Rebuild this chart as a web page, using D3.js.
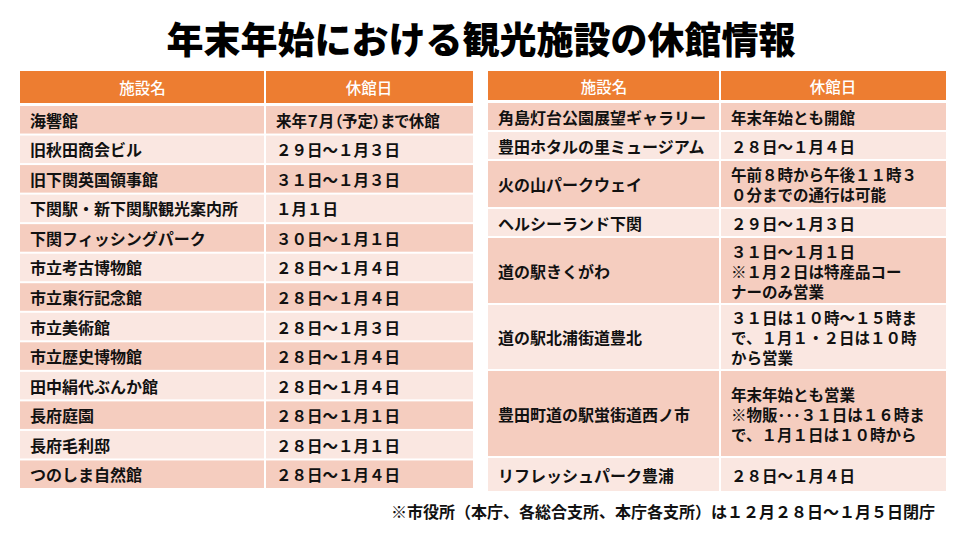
<!DOCTYPE html>
<html>
<head>
<meta charset="utf-8">
<script src="https://cdn.jsdelivr.net/npm/d3@7"></script>
<style>
  body { margin: 0; background: #fff; }
  text { font-family: "Noto Sans CJK JP", "Noto Sans", sans-serif; }
</style>
</head>
<body>
<div id="chart"></div>
<script>
// table content
const title = "年末年始における観光施設の休館情報";
const headers = ["施設名", "休館日"];
const footnote = "※市役所（本庁、各総合支所、本庁各支所）は１２月２８日～１月５日閉庁";

const leftNames = [
    "海響館", "旧秋田商会ビル", "旧下関英国領事館", "下関駅・新下関駅観光案内所",
    "下関フィッシングパーク", "市立考古博物館", "市立東行記念館", "市立美術館",
    "市立歴史博物館", "田中絹代ぶんか館", "長府庭園", "長府毛利邸", "つのしま自然館"
];
const leftClosed = [
    "来年７月（予定）まで休館", "２９日～１月３日", "３１日～１月３日", "１月１日",
    "３０日～１月１日", "２８日～１月４日", "２８日～１月４日", "２８日～１月３日",
    "２８日～１月４日", "２８日～１月４日", "２８日～１月１日", "２８日～１月１日", "２８日～１月４日"
];

const rightNames = [
    "角島灯台公園展望ギャラリー", "豊田ホタルの里ミュージアム", "火の山パークウェイ",
    "ヘルシーランド下関", "道の駅きくがわ", "道の駅北浦街道豊北",
    "豊田町道の駅蛍街道西ノ市", "リフレッシュパーク豊浦"
];
const rightClosed = [
    "年末年始とも開館",
    "２８日～１月４日",
    "午前８時から午後１１時３\n０分までの通行は可能",
    "２９日～１月３日",
    "３１日～１月１日\n※１月２日は特産品コー\nナーのみ営業",
    "３１日は１０時～１５時ま\nで、１月１・２日は１０時\nから営業",
    "年末年始とも営業\n※物販･･･３１日は１６時ま\nで、１月１日は１０時から",
    "２８日～１月４日"
];

// layout
const width = 960, height = 540;
const orange = "#ED7D31", dark = "#F5CDBF", light = "#FAE7E1";
const lineGap = 20;
// relative row heights for the right table (rows with more lines are taller)
const rightRowWeights = [29, 29, 48, 29, 67, 66, 87, 35];

const svg = d3.create("svg")
    .attr("width", width)
    .attr("height", height);

// title
svg.append("text")
    .attr("x", 481)
    .attr("y", 38)
    .attr("text-anchor", "middle")
    .attr("dominant-baseline", "central")
    .style("font-size", "37px")
    .style("font-weight", 900)
    .attr("fill", "#000")
    .text(title);

function drawTable(g, cfg) {
    const { x0, split, x1, headTop, headBottom, rows } = cfg;
    const cols = [[x0, split], [split, x1]];

    // header
    cols.forEach(([a, b], i) => {
        g.append("rect")
            .attr("x", a + (i ? 1 : 0)).attr("y", headTop)
            .attr("width", b - a - 1).attr("height", headBottom - headTop)
            .attr("fill", orange);
        g.append("text")
            .attr("x", (a + b) / 2)
            .attr("y", (headTop + headBottom) / 2)
            .attr("text-anchor", "middle")
            .attr("dominant-baseline", "central")
            .attr("fill", "#fff")
            .style("font-size", "15.5px")
            .style("font-weight", 500)
            .text(headers[i]);
    });

    // body rows
    rows.forEach((r, i) => {
        const fill = i % 2 === 0 ? dark : light;
        [r.name, r.closed].forEach((txt, c) => {
            const [a, b] = cols[c];
            g.append("rect")
                .attr("x", a + (c ? 1 : 0)).attr("y", r.y0 + 1)
                .attr("width", b - a - 1).attr("height", r.y1 - r.y0 - 2)
                .attr("fill", fill);
            const lines = txt.split("\n");
            const mid = (r.y0 + r.y1) / 2;
            const tx = a + (c ? cfg.padR : cfg.padL);
            const t = g.append("text")
                .attr("x", tx)
                .attr("fill", "#111")
                .style("font-size", c ? "15.5px" : "16px")
                .style("font-weight", 700)
                .style("font-feature-settings", txt.includes("（") ? "'palt'" : "normal");
            lines.forEach((ln, k) => {
                t.append("tspan")
                    .attr("x", tx)
                    .attr("y", mid + (k - (lines.length - 1) / 2) * lineGap)
                    .attr("dominant-baseline", "central")
                    .text(ln);
            });
        });
    });
}

// left table: equal rows on a band scale
const yLeft = d3.scaleBand()
    .domain(d3.range(leftNames.length))
    .range([105, 489]);

drawTable(svg.append("g"), {
    x0: 20, split: 265, x1: 473, headTop: 71, headBottom: 103,
    padL: 10, padR: 11,
    rows: leftNames.map((n, i) => ({
        name: n, closed: leftClosed[i],
        y0: yLeft(i), y1: yLeft(i) + yLeft.bandwidth()
    }))
});

// right table: rows stacked by weight on a linear scale
const cum = [0, ...d3.cumsum(rightRowWeights)];
const yRight = d3.scaleLinear()
    .domain([0, cum[cum.length - 1]])
    .range([102, 492]);

drawTable(svg.append("g"), {
    x0: 488, split: 720, x1: 946, headTop: 71, headBottom: 100,
    padL: 10, padR: 11,
    rows: rightNames.map((n, i) => ({
        name: n, closed: rightClosed[i],
        y0: yRight(cum[i]), y1: yRight(cum[i + 1])
    }))
});

// footnote
svg.append("text")
    .attr("x", 935)
    .attr("y", 511)
    .attr("text-anchor", "end")
    .attr("dominant-baseline", "central")
    .attr("fill", "#111")
    .style("font-size", "16px")
    .style("font-weight", 700)
    .text(footnote);

document.getElementById("chart").appendChild(svg.node());
</script>
</body>
</html>
